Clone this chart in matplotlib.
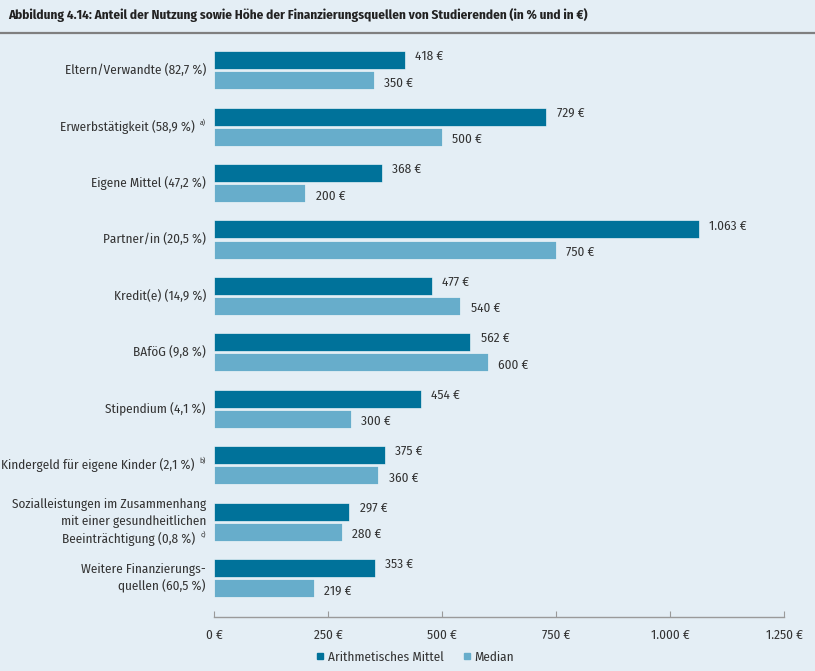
import matplotlib.pyplot as plt
import numpy as np
from matplotlib.lines import Line2D

plt.rcParams['font.family'] = ['Fira Sans Condensed', 'DejaVu Sans']
plt.rcParams['font.stretch'] = 'condensed'

# Daten
kategorien = ['Eltern/Verwandte (82,7 %)', 'Erwerbstätigkeit (58,9 %)', 'Eigene Mittel (47,2 %)',
              'Partner/in (20,5 %)', 'Kredit(e) (14,9 %)', 'BAföG (9,8 %)', 'Stipendium (4,1 %)',
              'Kindergeld für eigene Kinder (2,1 %)',
              'Sozialleistungen im Zusammenhang\nmit einer gesundheitlichen\nBeeinträchtigung (0,8 %)',
              'Weitere Finanzierungs-\nquellen (60,5 %)']
fussnoten = ['', 'a)', '', '', '', '', '', 'b)', 'c)', '']
mittel = [418, 729, 368, 1063, 477, 562, 454, 375, 297, 353]
median = [350, 500, 200, 750, 540, 600, 300, 360, 280, 219]
ticks = [0, 250, 500, 750, 1000, 1250]
tick_labels = ['0 €', '250 €', '500 €', '750 €', '1.000 €', '1.250 €']

bg = '#e4eef5'
c_mittel = '#00729a'
c_median = '#67adcb'
textc = '#333333'

fig = plt.figure(figsize=(8.15, 6.71), dpi=100, facecolor=bg)
ax = fig.add_axes([214 / 815, 1 - 617 / 671, 570 / 815, 575 / 671], facecolor=bg)

y = np.arange(len(kategorien))
h = 0.32
ax.barh(y - 0.178, mittel, height=h, color=c_mittel, edgecolor='white', linewidth=0.4)
ax.barh(y + 0.178, median, height=h, color=c_median, edgecolor='white', linewidth=0.4)

ax.set_xlim(0, 1250)
ax.set_ylim(9.69, -0.5)

def euro(v):
    return f'{v:,}'.replace(',', '.') + ' €'

for i in range(len(y)):
    ax.annotate(euro(mittel[i]), (mittel[i], y[i] - 0.178), xytext=(7.5, 2.5),
                textcoords='offset points', va='center', ha='left', fontsize=9.5, color=textc)
    ax.annotate(euro(median[i]), (median[i], y[i] + 0.178), xytext=(7.5, -2),
                textcoords='offset points', va='center', ha='left', fontsize=9.5, color=textc)

# Kategorienbeschriftung links, Zeile für Zeile (Fußnote nur an der letzten Zeile)
tr = ax.get_yaxis_transform()
zeilenabstand = 12.3
for i, lab in enumerate(kategorien):
    zeilen = lab.split('\n')
    n = len(zeilen)
    for k, z in enumerate(zeilen):
        dy = ((n - 1) / 2 - k) * zeilenabstand
        off = -5.8
        if fussnoten[i] and k == n - 1:
            ax.annotate(fussnoten[i], (0, y[i]), xycoords=tr, xytext=(off, dy + 3),
                        textcoords='offset points', ha='right', va='center', fontsize=5.5, color=textc)
            off -= 8
        ax.annotate(z, (0, y[i]), xycoords=tr, xytext=(off, dy), textcoords='offset points',
                    ha='right', va='center', fontsize=9.5, color=textc)

ax.set_yticks([])
for s in ['top', 'right', 'left']:
    ax.spines[s].set_visible(False)
ax.spines['bottom'].set_color('#9a9a9a')
ax.spines['bottom'].set_linewidth(1)
ax.set_xticks(ticks)
ax.set_xticklabels(tick_labels, fontsize=9.5, color=textc)
ax.tick_params(axis='x', direction='in', length=4, color='#9a9a9a', pad=9)

# Titel
fig.text(8 / 815, 1 - 15 / 671, 'Abbildung 4.14: Anteil der Nutzung sowie Höhe der Finanzierungsquellen von Studierenden (in % und in €)',
         fontsize=9.5, fontweight='bold', color='#222222', va='center', ha='left')
fig.add_artist(Line2D([0, 1], [1 - 33 / 671, 1 - 33 / 671], color='#7f7f7f', linewidth=1.6))

# Legende
handles = [Line2D([], [], marker='s', color=c_mittel, linestyle='', markersize=5),
           Line2D([], [], marker='s', color=c_median, linestyle='', markersize=5)]
fig.legend(handles, ['Arithmetisches Mittel', 'Median'], loc='center', bbox_to_anchor=(414 / 815, 1 - 657 / 671),
           ncol=2, frameon=False, fontsize=9.5, handletextpad=0.1, columnspacing=1.2, handlelength=1,
           labelcolor=textc)

fig.savefig('out.png', dpi=100, facecolor=bg)
